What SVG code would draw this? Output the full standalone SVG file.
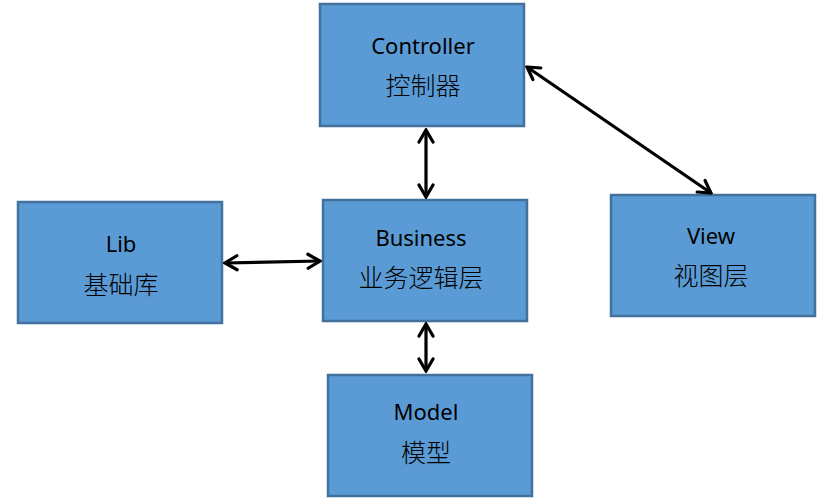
<svg xmlns="http://www.w3.org/2000/svg" width="830" height="504" viewBox="0 0 830 504">
<style>
.box{fill:#5B9BD5;stroke:#41719C;stroke-width:2.5}
.t{font-family:"Noto Sans","Noto Sans CJK SC",sans-serif;font-size:22px;fill:#000;text-anchor:middle}
.c{font-family:"Noto Sans CJK SC",sans-serif;font-size:25px;font-weight:300;fill:#000;text-anchor:middle}
.con{stroke:#000;stroke-width:3.2;fill:none;marker-start:url(#ah);marker-end:url(#ah)}
</style>
<defs>
<marker id="ah" viewBox="-14 -9 16 18" markerWidth="16" markerHeight="18" refX="0" refY="0" orient="auto-start-reverse" markerUnits="userSpaceOnUse">
<path d="M-12,-7 L0,0 L-12,7" fill="none" stroke="#000" stroke-width="3.2" stroke-linecap="round" stroke-linejoin="miter"/>
</marker>
</defs>
<rect width="830" height="504" fill="#fff"/>
<g id="controller"><rect class="box" x="320" y="4" width="204" height="122"/><text class="t" x="423" y="54">Controller</text><text class="c" x="423" y="95">控制器</text></g>
<g id="lib"><rect class="box" x="18" y="202" width="204" height="121"/><text class="t" x="121" y="252">Lib</text><text class="c" x="121" y="294">基础库</text></g>
<g id="business"><rect class="box" x="323" y="200" width="204" height="121"/><text class="t" x="421" y="246">Business</text><text class="c" x="421" y="287">业务逻辑层</text></g>
<g id="view"><rect class="box" x="611" y="195" width="204" height="121"/><text class="t" x="711" y="244">View</text><text class="c" x="711" y="285">视图层</text></g>
<g id="model"><rect class="box" x="328" y="375" width="204" height="121"/><text class="t" x="426" y="420">Model</text><text class="c" x="426" y="462">模型</text></g>
<g id="connectors">
<line class="con" x1="527" y1="67" x2="711" y2="193"/>
<line class="con" x1="225" y1="263" x2="320" y2="261"/>
<line class="con" x1="426" y1="130" x2="426" y2="197"/>
<line class="con" x1="426" y1="324" x2="426" y2="371"/>
</g>
</svg>
